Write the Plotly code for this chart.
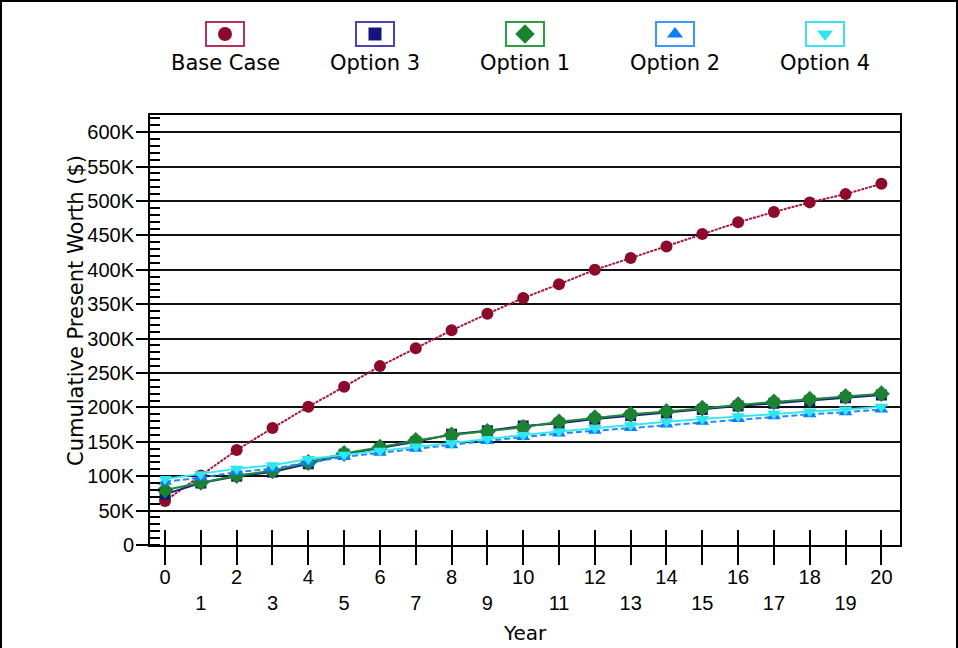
import plotly.graph_objects as go

# Cumulative present worth by year, in thousands of dollars
years = list(range(0, 21))
base_case = [64, 101, 138, 170, 201, 230, 260, 286, 312, 336, 359, 379, 400, 417, 434, 452, 469, 484, 498, 510, 525]
option_3 = [74, 90, 100, 106, 118, 132, 141, 150, 161, 166, 173, 177, 183, 188, 192, 197, 202, 206, 210, 214, 218]
option_1 = [80, 91, 101, 108, 120, 133, 142, 152, 160, 165, 171, 179, 185, 190, 194, 199, 204, 208, 212, 216, 220]
option_2 = [92, 98, 106, 111, 120, 128, 134, 140, 145, 151, 157, 162, 166, 170, 175, 179, 183, 187, 190, 193, 197]
option_4 = [96, 103, 111, 116, 125, 131, 137, 143, 148, 154, 160, 165, 170, 174, 179, 183, 187, 191, 194, 197, 201]

y_tick_values = [0, 50, 100, 150, 200, 250, 300, 350, 400, 450, 500, 550, 600]
y_tick_labels = ["0", "50K", "100K", "150K", "200K", "250K", "300K", "350K",
                 "400K", "450K", "500K", "550K", "600K"]
# even years on the first row, odd years on the second
x_tick_labels = [str(y) if y % 2 == 0 else "<br>" + str(y) for y in years]

series = [
    # name, values, line colour, dash, marker symbol, marker colour, marker size, box colour
    ("Base Case", base_case, "#a3163f", "3px,1px", "circle", "#8c0a2c", 12, "#b8325a"),
    ("Option 3", option_3, "#1c1c88", "solid", "square", "#14147e", 11, "#4a44b4"),
    ("Option 1", option_1, "#1f8a38", "solid", "diamond", "#1b8232", 13, "#2f9b45"),
    ("Option 2", option_2, "#1e8cff", "6px,3px", "triangle-up", "#0a7cff", 12, "#3a98ff"),
    ("Option 4", option_4, "#3ce6ee", "solid", "triangle-down", "#2ee6f0", 12, "#3fe0ee"),
]

W, H = 958, 648
plot_left, plot_right, plot_top, plot_bottom = 150, 900, 115, 545
legend_strip = 90
text_font = "DejaVu Sans"
num_font = "Liberation Sans, Arial"


def px(x):
    return x / W


def py(y):
    return 1 - y / H


fig = go.Figure()

for name, vals, lcol, dash, sym, mcol, msize, _ in series:
    fig.add_trace(go.Scatter(
        x=years, y=[v * 1000 for v in vals], name=name, mode="lines+markers",
        line=dict(color=lcol, width=2, dash=dash),
        marker=dict(symbol=sym, color=mcol, size=msize, line=dict(width=0)),
        xaxis="x", yaxis="y", hoverinfo="x+y+name",
    ))

# invisible trace holding the upper half of the crossing year ticks
fig.add_trace(go.Scatter(x=[years[0]], y=[0], xaxis="x2", yaxis="y",
                         mode="markers", marker=dict(opacity=0), hoverinfo="skip"))

# custom legend: symbol in a box, label underneath
legend_cx0, legend_step, legend_box_y, legend_text_y = 225, 150, 34, 63
box_w, box_h = 38, 24
shapes, annotations = [], []
for i, (name, vals, lcol, dash, sym, mcol, msize, bcol) in enumerate(series):
    cx = legend_cx0 + legend_step * i
    shapes.append(dict(type="rect", xref="paper", yref="paper",
                       x0=px(cx - box_w / 2), x1=px(cx + box_w / 2),
                       y0=py(legend_box_y + box_h / 2), y1=py(legend_box_y - box_h / 2),
                       line=dict(color=bcol, width=2), fillcolor="white", layer="below"))
    fig.add_trace(go.Scatter(x=[cx], y=[legend_box_y], xaxis="x3", yaxis="y3",
                             mode="markers", hoverinfo="skip",
                             marker=dict(symbol=sym, color=mcol, size=msize + 2, line=dict(width=0))))
    annotations.append(dict(xref="paper", yref="paper", x=px(cx), y=py(legend_text_y), text=name,
                            showarrow=False, font=dict(family=text_font, size=21, color="black"),
                            xanchor="center", yanchor="middle"))

# outer frame
shapes.append(dict(type="rect", xref="paper", yref="paper", x0=px(1), x1=px(W - 1),
                   y0=py(H + 30), y1=py(1),
                   line=dict(color="black", width=2), fillcolor="rgba(0,0,0,0)", layer="above"))

annotations.append(dict(xref="paper", yref="paper", x=px(76), y=py(311),
                        text="Cumulative Present Worth ($)", textangle=-90, showarrow=False,
                        font=dict(family=text_font, size=21, color="black"),
                        xanchor="center", yanchor="middle"))
annotations.append(dict(xref="paper", yref="paper", x=px(525), y=py(633), text="Year",
                        showarrow=False, font=dict(family=text_font, size=20, color="black"),
                        xanchor="center", yanchor="middle"))

x_dom = [px(plot_left), px(plot_right)]
y_dom = [py(plot_bottom), py(plot_top)]
x_range = [-0.42, 20.52]

fig.update_layout(
    template="none",
    width=W, height=H, autosize=False,
    margin=dict(l=0, r=0, t=0, b=0, pad=0, autoexpand=False),
    paper_bgcolor="white", plot_bgcolor="rgba(0,0,0,0)",
    showlegend=False,
    font=dict(family=num_font, size=20, color="black"),
    xaxis=dict(domain=x_dom, range=x_range, anchor="y", automargin=False,
               tickmode="array", tickvals=years, ticktext=x_tick_labels,
               ticks="outside", ticklen=18, tickwidth=2, tickcolor="black",
               ticklabelstandoff=-5,
               tickfont=dict(family=num_font, size=20, color="black"),
               showline=True, linewidth=2, linecolor="black", mirror=True,
               showgrid=False, zeroline=False, fixedrange=True),
    xaxis2=dict(overlaying="x", anchor="y", side="bottom", range=x_range, automargin=False,
                tickmode="array", tickvals=years, showticklabels=False,
                ticks="inside", ticklen=15, tickwidth=2, tickcolor="black",
                showline=False, showgrid=False, zeroline=False, fixedrange=True),
    yaxis=dict(domain=y_dom, range=[0, 625000], anchor="x", automargin=False,
               tickmode="array", tickvals=[v * 1000 for v in y_tick_values], ticktext=y_tick_labels,
               ticks="outside", ticklen=12, tickwidth=2, tickcolor="black",
               ticklabelstandoff=-2,
               tickfont=dict(family=num_font, size=20, color="black"),
               minor=dict(tickmode="linear", tick0=0, dtick=10000, ticks="inside",
                          ticklen=10, tickwidth=2, tickcolor="black", showgrid=False),
               showgrid=True, gridcolor="#111111", gridwidth=2,
               showline=True, linewidth=2, linecolor="black", mirror=True,
               zeroline=False, fixedrange=True),
    # small pixel-scaled strip above the plot for the legend symbols
    xaxis3=dict(domain=[0, 1], range=[0, W], anchor="y3", visible=False, fixedrange=True,
                automargin=False),
    yaxis3=dict(domain=[py(legend_strip), 1], range=[legend_strip, 0], anchor="x3",
                visible=False, fixedrange=True, automargin=False),
    shapes=shapes,
    annotations=annotations,
)

fig.write_html("out.html")
